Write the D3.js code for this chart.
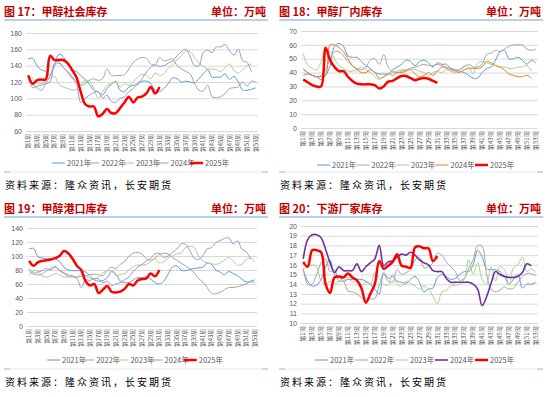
<!DOCTYPE html>
<html>
<head>
<meta charset="utf-8">
<script src="https://cdn.jsdelivr.net/npm/d3@7"></script>
<style>
  body { margin: 0; background: #fff; }
  svg { display: block; }
  text { font-family: "Liberation Sans", "Noto Sans CJK SC", sans-serif; }
</style>
</head>
<body>
<svg id="chart" width="550" height="397"></svg>
<script>
// categories
const weeks = d3.range(1, 54);
const weekTicks = weeks.filter(w => w % 2 === 1);
const years = ["2021年", "2022年", "2023年", "2024年", "2025年"];
const sourceText = "资料来源：隆众资讯，长安期货";
const unitText = "单位：万吨";

// 图17 甲醇社会库存
const social2021 = [148,149,140,135,133,128,140,154,151,142,135,133,128,123,117,110,108,104,112,117,120,110,108,114,116,117,121,121,118,110,108,112,118,125,124,120,121,120,119,124,130,135,126,126,126,130,123,127,120,110,110,111,113];
const social2022 = [122,117,113,110,118,128,140,143,138,133,127,120,116,118,122,124,122,124,136,128,128,128,129,136,144,148,150,149,142,141,150,146,147,148,140,136,133,130,118,110,109,116,102,101,102,106,112,113,114,120,115,121,120];
const social2023 = [127,125,119,118,120,125,127,117,114,112,110,111,116,122,121,112,100,108,116,118,121,114,118,116,120,126,129,128,124,131,128,130,137,141,147,152,158,157,150,143,139,136,136,135,133,138,142,134,131,135,140,142];
const social2024 = [128,113,115,116,118,120,143,145,138,132,125,118,95,100,104,107,108,100,104,96,95,100,102,108,112,118,124,132,138,141,139,140,143,146,152,157,160,151,140,140,156,159,156,163,163,166,158,153,160,146,144,132];
const social2025 = [128,118,122,123,123,152,147,147,147,143,135,126,108,93,90,90,78,81,87,82,82,88,95,102,95,101,102,106,114,106,114];

// 图18 甲醇厂内库存
const plant2021 = [38,39,38,37,35,38,45,59,61,59,52,51,51,48,45,43,40,39,39,39,42,44,46,49,48,45,48,49,47,44,47,46,46,43,42,41,40,38,36,36,40,43,44,49,55,56,50,50,51,49,46,49,47];
const plant2022 = [42,40,38,37,38,42,50,55,55,52,48,45,43,42,44,49,50,46,53,44,41,40,41,42,43,44,45,46,45,45,46,45,44,43,42,42,44,46,44,44,46,53,54,56,55,57,59,60,60,60,57,56,57];
const plant2023 = [54,45,43,42,48,56,55,50,45,43,41,41,42,44,42,40,37,35,37,39,40,41,42,42,43,42,41,40,38,40,41,40,42,41,40,42,45,44,39,47,48,47,46,45,44,44,43,43,44,44,45,41];
const plant2024 = [43,40,38,37,37,38,60,60,58,55,50,45,42,40,40,42,40,36,37,39,38,40,40,41,42,39,37,38,40,38,41,44,43,42,41,40,42,43,43,43,44,48,47,45,44,42,39,38,37,37,38,36];
const plant2025 = [35,33,31,30,30,58,49,44,41,41,37,34,32,31.5,31.5,31.5,31,28.5,30,33.5,34,36,37.5,37.5,36,34.5,35.5,36,35.5,34,32.5];

// 图19 甲醇港口库存
const port2021 = [110,111,99,97,96,96,96,92,84,80,79,79,79,77,72,66,64,65,69,78,74,64,62,62,66,69,69,70,67,62,60,64,74,84,86,80,79,81,82,83,84,90,88,80,77,73,78,75,72,67,63,64,66];
const port2022 = [78,74,73,74,79,82,84,79,75,71,70,70,71,72,73,74,73,72,80,84,82,88,92,100,104,105,103,96,94,97,102,104,103,98,94,90,86,82,76,68,63,55,47,46,48,52,55,55,56,58,60,63,62];
const port2023 = [72,79,78,71,70,72,75,73,70,70,70,69,74,72,68,67,70,76,79,78,72,74,75,80,85,87,87,88,92,96,90,92,97,100,103,104,112,114,112,100,93,90,89,88,90,94,98,93,87,88,95,97,91];
const port2024 = [82,76,77,79,82,80,85,80,76,73,72,68,55,66,65,68,67,62,64,58,60,62,66,70,78,84,88,93,97,103,104,98,100,105,110,117,117,108,97,95,100,110,112,119,122,125,126,117,122,110,106,96];
const port2025 = [93,86,91,93,94,95,97,100,107,104,96,86,80,64,58,60,47,52,57,49,48,49,53,60,58,65,67,68,75,71,80];

// 图20 下游厂家库存
const down2021 = [15.5,14.3,13.8,13.9,14.5,15.8,16.5,15.0,14.8,14.3,14.5,14.5,14.5,14.5,14.3,14.0,13.5,13.0,15.2,14.6,14.8,14.3,14.2,14.1,14.5,14.8,14.2,13.2,13.5,13.6,14.7,15.0,14.8,14.5,14.6,15.0,15.3,15.3,16.0,17.5,16.8,15.6,15.5,15.5,15.3,14.8,14.0,14.5,15.0,13.6,14.0,14.0,14.2];
const down2022 = [15.6,14.0,14.0,15.0,16.2,16.6,15.3,15.5,14.3,14.3,13.3,13.2,13.0,12.6,12.3,12.5,12.5,13.9,15.0,14.3,14.2,15.5,15.0,15.2,15.5,16.5,16.8,15.7,15.8,16.2,17.2,17.0,16.3,15.8,15.3,14.4,14.6,15.6,16.5,18.0,17.9,15.0,13.5,13.2,13.4,13.7,13.5,13.6,14.2,14.8,15.1,15.1,14.9];
const down2023 = [15.6,15.8,16.0,15.8,14.3,14.0,14.3,14.0,14.3,14.4,14.7,14.2,14.4,13.9,14.2,14.0,15.2,14.5,14.0,13.9,15.0,14.0,13.8,14.3,14.1,13.8,13.5,13.8,13.5,12.8,12.0,13.2,13.4,13.8,13.9,14.0,14.5,16.5,15.0,16.2,14.5,14.0,15.8,14.3,15.8,15.5,13.9,15.7,16.0,16.8,15.3,15.6,15.2];
const down2024 = [16.6,18.6,19.1,19.1,18.8,17.6,16.2,15.2,15.8,15.4,15.4,15.4,16.1,15.3,15.8,16.2,16.6,18.0,15.9,16.3,16.4,16.8,17.1,17.0,17.3,17.0,16.5,16.2,16.0,15.4,15.3,15.3,14.6,14.2,14.2,14.2,14.2,14.2,14.0,13.5,11.8,12.7,14.1,15.3,15.0,14.8,14.7,14.7,14.8,15.2,16.1,15.9];
const down2025 = [16.3,15.8,17.5,17.5,17.3,14.0,13.1,14.7,14.8,14.7,15.1,14.7,14.4,13.6,12.1,13.0,14.0,16.4,15.6,15.9,16.3,17.1,15.9,15.8,15.7,17.8,17.9,17.7,17.7,16.4,16.9];

const svg = d3.select("#chart");

const baseColors = ["#5b9bd5", "#a5a5a5", "#a9d18e"];
const red = "#ff0000";

const panels = [
  { title: "图 17：甲醇社会库存", series: [social2021, social2022, social2023, social2024, social2025],
    c4: "#a592cf", w4: 1, ox: 0, oy: 0, left: 26, right: 258, top: 33, bottom: 131,
    domain: [60, 180], step: 20, legX: 52, legStep: 34.5, legY: 163, tickFont: 5.8 },
  { title: "图 18：甲醇厂内库存", series: [plant2021, plant2022, plant2023, plant2024, plant2025],
    c4: "#ed7d31", w4: 1, ox: 275, oy: 0, left: 26, right: 263, top: 31, bottom: 128,
    domain: [0, 70], step: 10, legX: 42, legStep: 39.5, legY: 165, tickFont: 6.2 },
  { title: "图 19：甲醇港口库存", series: [port2021, port2022, port2023, port2024, port2025],
    c4: "#a592cf", w4: 1, ox: 0, oy: 197, left: 27, right: 257, top: 31, bottom: 129,
    domain: [0, 140], step: 20, legX: 47, legStep: 34.2, legY: 163, tickFont: 5.8 },
  { title: "图 20：下游厂家库存", series: [down2021, down2022, down2023, down2024, down2025],
    c4: "#7030a0", w4: 1.6, ox: 275, oy: 197, left: 26, right: 263, top: 29, bottom: 126,
    domain: [10, 20], step: 1, legX: 40, legStep: 40, legY: 163, tickFont: 6.2 }
];

panels.forEach(p => {
  const g = svg.append("g").attr("transform", `translate(${p.ox},${p.oy})`);
  const colors = [...baseColors, p.c4, red];
  const widths = [1, 1, 1, p.w4, 2.5];

  // title + unit
  g.append("text").attr("x", 4).attr("y", 16)
    .attr("font-size", 11).attr("font-weight", "bold").attr("fill", "#c00000")
    .style("font-family", "'Noto Sans CJK SC', sans-serif")
    .text(p.title);
  g.append("text").attr("x", 266).attr("y", 16).attr("text-anchor", "end")
    .attr("font-size", 11).attr("font-weight", "bold").attr("fill", "#c00000")
    .style("font-family", "'Noto Sans CJK SC', sans-serif")
    .text(unitText);
  g.append("line").attr("x1", 4).attr("x2", 268).attr("y1", 20).attr("y2", 20)
    .attr("stroke", "#9dc3e6").attr("stroke-width", 1.5);

  // scales
  const x = d3.scalePoint().domain(weeks).range([p.left, p.right]).padding(0.5);
  const y = d3.scaleLinear().domain(p.domain).range([p.bottom, p.top]);
  const yTicks = d3.range(p.domain[0], p.domain[1] + p.step / 2, p.step);

  // gridlines + y labels
  const yAxis = g.append("g").attr("transform", `translate(${p.left},0)`)
    .call(d3.axisLeft(y).tickValues(yTicks).tickSize(-(p.right - p.left)).tickPadding(4).tickFormat(d3.format("d")));
  yAxis.select(".domain").remove();
  yAxis.selectAll("line").attr("stroke", "#d9d9d9");
  yAxis.selectAll("text").attr("fill", "#595959").attr("font-size", 7)
    .style("font-family", "'Liberation Sans', sans-serif");

  // x labels (rotated)
  g.append("g").selectAll("text").data(weekTicks).join("text")
    .attr("transform", d => `translate(${x(d)},${p.bottom + 3}) rotate(-90)`)
    .attr("text-anchor", "end").attr("dy", "0.35em")
    .attr("font-size", p.tickFont).attr("fill", "#595959")
    .style("font-family", "'Noto Sans CJK SC', sans-serif")
    .text(d => `第${d}周`);

  // lines
  const line = d3.line()
    .x((d, i) => x(weeks[i]))
    .y(d => y(d))
    .curve(d3.curveCatmullRom.alpha(0.5));
  g.append("g").selectAll("path").data(p.series).join("path")
    .attr("d", d => line(d))
    .attr("fill", "none")
    .attr("stroke", (d, i) => colors[i])
    .attr("stroke-width", (d, i) => widths[i])
    .attr("stroke-linejoin", "round");

  // legend
  const leg = g.append("g").selectAll("g").data(years).join("g")
    .attr("transform", (d, i) => `translate(${p.legX + i * p.legStep},${p.legY})`);
  leg.append("line").attr("x1", 0).attr("x2", 13).attr("y1", 0).attr("y2", 0)
    .attr("stroke", (d, i) => colors[i]).attr("stroke-width", (d, i) => widths[i]);
  leg.append("text").attr("x", 15).attr("y", 0).attr("dy", "0.35em")
    .attr("font-size", 7.5).attr("fill", "#595959")
    .style("font-family", "'Noto Sans CJK SC', sans-serif")
    .text(d => d);

  // bottom rule + source
  g.append("line").attr("x1", 4).attr("x2", 268).attr("y1", 172).attr("y2", 172)
    .attr("stroke", "#e3ecf6").attr("stroke-width", 1);
  g.append("line").attr("x1", 4).attr("x2", 10).attr("y1", 172).attr("y2", 172)
    .attr("stroke", "#9dc3e6").attr("stroke-width", 1);
  g.append("line").attr("x1", 262).attr("x2", 268).attr("y1", 172).attr("y2", 172)
    .attr("stroke", "#9dc3e6").attr("stroke-width", 1);
  g.append("text").attr("x", 5).attr("y", 189)
    .attr("font-size", 10).attr("letter-spacing", 2).attr("fill", "#000")
    .style("font-family", "'Noto Sans CJK SC', sans-serif")
    .text(sourceText);
});
</script>
</body>
</html>
